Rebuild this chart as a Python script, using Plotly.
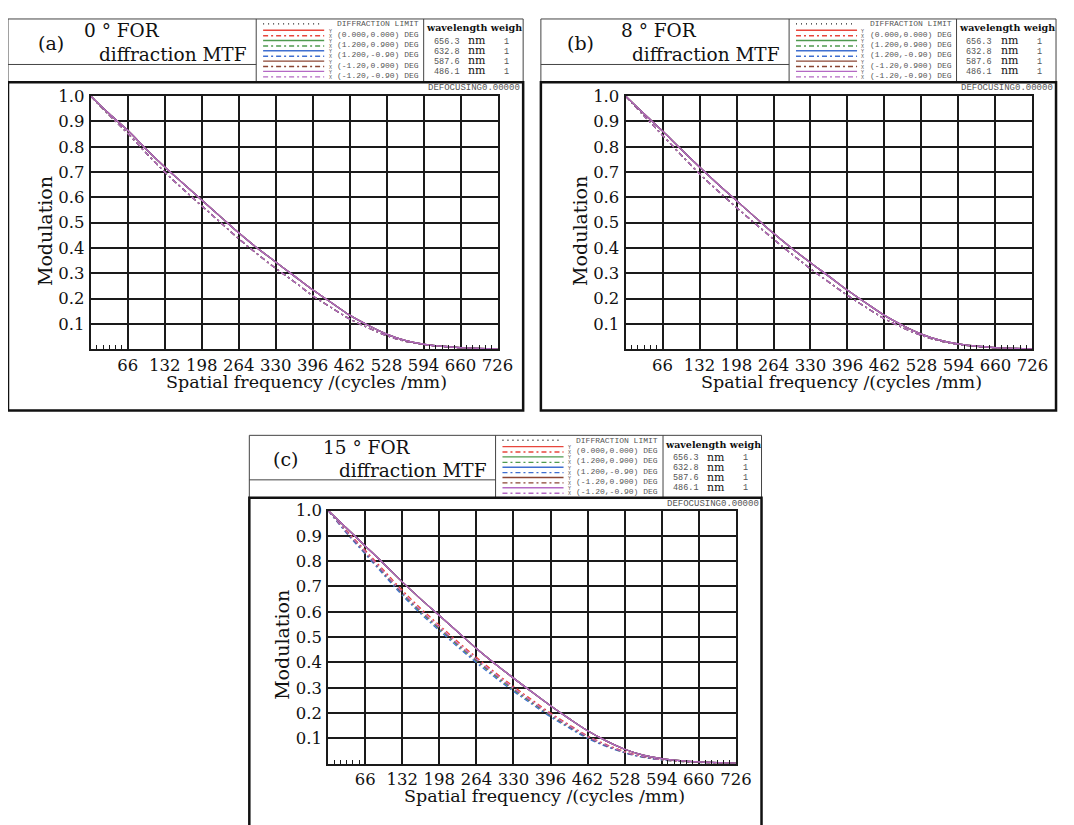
import plotly.graph_objects as go

# ---------------- data ----------------
freq = [0, 33, 66, 99, 132, 165, 198, 231, 264, 297, 330, 363, 396, 429, 462,
        495, 528, 561, 594, 627, 660, 693, 726]
x_ticks = [66, 132, 198, 264, 330, 396, 462, 528, 594, 660, 726]
y_ticks = [0.1, 0.2, 0.3, 0.4, 0.5, 0.6, 0.7, 0.8, 0.9, 1.0]
y_ticktext = ["0.1", "0.2", "0.3", "0.4", "0.5", "0.6", "0.7", "0.8", "0.9", "1.0"]
x_minor = [11, 22, 33, 44, 55, 605, 616, 627, 638, 649, 671, 682, 693, 704, 715]

field_names = ["(0.000,0.000) DEG", "(1.200,0.900) DEG", "(1.200,-0.90) DEG",
               "(-1.20,0.900) DEG", "(-1.20,-0.90) DEG"]
field_colors = ["#e8463c", "#4f9a4f", "#3f6fd0", "#8a4533", "#b469c4"]
wavelengths = ["656.3", "632.8", "587.6", "486.1"]
weights = ["1", "1", "1", "1"]

# panel (a) 0 deg
a_tan = [1.0, 0.93, 0.865, 0.79, 0.72, 0.655, 0.59, 0.525, 0.46, 0.40, 0.345, 0.29,
         0.235, 0.185, 0.135, 0.095, 0.06, 0.035, 0.02, 0.012, 0.007, 0.004, 0.002]
a_sag = [1.0, 0.925, 0.853, 0.775, 0.70, 0.632, 0.567, 0.502, 0.437, 0.377, 0.32, 0.267,
         0.212, 0.165, 0.12, 0.085, 0.054, 0.032, 0.019, 0.011, 0.006, 0.003, 0.001]
# panel (b) 8 deg
b_tan = [1.0, 0.93, 0.862, 0.79, 0.72, 0.652, 0.587, 0.522, 0.458, 0.398, 0.342, 0.288,
         0.233, 0.183, 0.134, 0.094, 0.06, 0.036, 0.021, 0.012, 0.007, 0.004, 0.002]
b_sag = [1.0, 0.922, 0.845, 0.768, 0.693, 0.625, 0.56, 0.497, 0.435, 0.375, 0.318, 0.265,
         0.213, 0.166, 0.121, 0.085, 0.055, 0.033, 0.019, 0.011, 0.006, 0.003, 0.001]
# panel (c) 15 deg
c_tan = [1.0, 0.93, 0.86, 0.79, 0.718, 0.65, 0.585, 0.52, 0.455, 0.395, 0.338, 0.283,
         0.229, 0.178, 0.13, 0.09, 0.057, 0.034, 0.02, 0.012, 0.007, 0.004, 0.002]
c_sag_red = [1.0, 0.92, 0.843, 0.764, 0.685, 0.613, 0.547, 0.482, 0.42, 0.361, 0.305, 0.252,
             0.2, 0.154, 0.11, 0.076, 0.048, 0.029, 0.017, 0.01, 0.006, 0.003, 0.001]
c_sag_green = [1.0, 0.913, 0.832, 0.751, 0.671, 0.598, 0.532, 0.467, 0.405, 0.347, 0.291, 0.24,
               0.189, 0.145, 0.103, 0.07, 0.044, 0.026, 0.015, 0.009, 0.005, 0.003, 0.001]
c_sag_blue = [1.0, 0.91, 0.828, 0.746, 0.665, 0.592, 0.526, 0.461, 0.399, 0.341, 0.286, 0.235,
              0.185, 0.141, 0.1, 0.068, 0.043, 0.025, 0.015, 0.009, 0.005, 0.003, 0.001]
c_sag_brown = [1.0, 0.915, 0.835, 0.755, 0.675, 0.603, 0.537, 0.472, 0.41, 0.352, 0.296, 0.244,
               0.193, 0.148, 0.105, 0.072, 0.045, 0.027, 0.016, 0.009, 0.005, 0.003, 0.001]
c_sag_purple = [1.0, 0.916, 0.837, 0.757, 0.677, 0.605, 0.539, 0.474, 0.412, 0.354, 0.298, 0.246,
                0.195, 0.15, 0.107, 0.073, 0.046, 0.028, 0.016, 0.01, 0.006, 0.003, 0.001]

panels = [
    dict(label="(a)", deg="0", tan=[a_tan] * 5, sag=[a_sag] * 5,
         header=(8, 10, 531, 74), tdiv=260, ldiv=430, tline=56,
         frame=(8, 74, 531, 406), plot=(92, 88, 505, 344),
         lab_dx=44, deg_dx=76),
    dict(label="(b)", deg="8", tan=[b_tan] * 5, sag=[b_sag] * 5,
         header=(549, 10, 1072, 74), tdiv=801, ldiv=971, tline=56,
         frame=(549, 74, 1072, 406), plot=(635, 88, 1048, 344),
         lab_dx=40, deg_dx=80),
    dict(label="(c)", deg="15", tan=[c_tan] * 5,
         sag=[c_sag_red, c_sag_green, c_sag_blue, c_sag_brown, c_sag_purple],
         header=(253, 431, 773, 494), tdiv=503, ldiv=673, tline=476,
         frame=(253, 494, 773, 840), plot=(333, 507, 747, 763),
         lab_dx=37, deg_dx=74),
]

# page body has an 8px margin: figure placed at (8, 8)
OFF = 8
W, H = 1074 - OFF, 825 - OFF


def X(p):
    return (p - OFF) / W


def Y(p):
    return 1 - (p - OFF) / H


SERIF = "DejaVu Serif"
MONO = "Liberation Mono"
fig = go.Figure()
shapes = []
annos = []


def line(x0, y0, x1, y1, color="#333", width=1, dash=None):
    d = dict(type="line", xref="paper", yref="paper", x0=X(x0), y0=Y(y0),
             x1=X(x1), y1=Y(y1), line=dict(color=color, width=width))
    if dash:
        d["line"]["dash"] = dash
    shapes.append(d)


def text(x, y, s, size, font=SERIF, xanchor="center", color="#111", angle=0, bold=False):
    if bold:
        s = "<b>" + s + "</b>"
    annos.append(dict(x=X(x), y=Y(y), xref="paper", yref="paper", text=s, showarrow=False,
                      xanchor=xanchor, yanchor="middle", textangle=angle, borderpad=0,
                      font=dict(family=font, size=size, color=color)))


DASHDOT = "5px,3px,2px,3px"

for k, p in enumerate(panels, start=1):
    xa, ya = ("x" if k == 1 else f"x{k}"), ("y" if k == 1 else f"y{k}")
    pl, pt, pr, pb = p["plot"]
    # curves
    for i in range(5):
        fig.add_trace(go.Scatter(x=freq, y=p["sag"][i], mode="lines", xaxis=xa, yaxis=ya,
                                 line=dict(color=field_colors[i], width=1.3, dash=DASHDOT,
                                           shape="spline"),
                                 name=field_names[i] + " X", hoverinfo="skip"))
    for i in range(5):
        fig.add_trace(go.Scatter(x=freq, y=p["tan"][i], mode="lines", xaxis=xa, yaxis=ya,
                                 line=dict(color=field_colors[i], width=1.3, shape="spline"),
                                 name=field_names[i] + " Y", hoverinfo="skip"))
    axis_common = dict(showgrid=True, gridcolor="#1a1a1a", gridwidth=1.8, zeroline=False,
                       showline=True, linecolor="#1a1a1a", linewidth=1.8, mirror=True,
                       ticks="", fixedrange=True,
                       tickfont=dict(family=SERIF, size=16.5, color="#111"))
    fig.update_layout(**{
        ("xaxis" if k == 1 else f"xaxis{k}"): dict(
            axis_common, domain=[X(pl), X(pr)], range=[0, 726], anchor=ya,
            tickmode="array", tickvals=x_ticks, ticktext=[str(v) for v in x_ticks],
            ticklabelstandoff=0,
            minor=dict(tickmode="array", tickvals=x_minor, ticks="inside", ticklen=4,
                       tickcolor="#1a1a1a", tickwidth=1, showgrid=False)),
        ("yaxis" if k == 1 else f"yaxis{k}"): dict(
            axis_common, domain=[Y(pb), Y(pt)], range=[0, 1.0], anchor=xa,
            tickmode="array", tickvals=y_ticks, ticktext=y_ticktext, ticklabelstandoff=1),
    })
    # axis titles
    text(pl - 47, (pt + pb) / 2 + 8, "Modulation", 19, angle=-90)
    text((pl + pr) / 2 + 13, pb + 33, "Spatial frequency /(cycles /mm)", 17.5)

    # header
    hl, ht, hr, hb = p["header"]
    td, ld = p["tdiv"], p["ldiv"]
    shapes.append(dict(type="rect", xref="paper", yref="paper", x0=X(hl), y0=Y(hb),
                       x1=X(hr), y1=Y(ht), line=dict(color="#444", width=1)))
    line(td, ht, td, hb, "#444", 1)
    line(ld, ht, ld, hb, "#444", 1)
    line(hl, p["tline"], td, p["tline"], "#444", 1)
    text(hl + p["lab_dx"], ht + 24, p["label"], 19)
    text(hl + p["deg_dx"], ht + 12, p["deg"] + " ° FOR", 18.5, xanchor="left")
    text(td - 8, ht + 36, "diffraction MTF", 18.5, xanchor="right")

    # legend rows
    for r in range(6):
        ty = ht + 5 + 10.4 * r
        if r == 0:
            line(td + 7, ty, td + 64, ty, "#222", 1.4, "1px,4px")
            text(td + 81, ty, "DIFFRACTION LIMIT", 8, MONO, "left", "#555")
        else:
            c = field_colors[r - 1]
            line(td + 7, ty - 4, td + 69, ty - 4, c, 1.4)
            line(td + 7, ty + 1.5, td + 69, ty + 1.5, c, 1.4, "5px,3px,2px,3px")
            text(td + 75, ty - 2.5, "Y", 5, MONO, "center", "#555")
            text(td + 75, ty + 2.5, "X", 5, MONO, "center", "#555")
            text(td + 81, ty, field_names[r - 1], 8, MONO, "left", "#555")

    # wavelength table
    text(ld + 51, ht + 9, "wavelength weigh", 9.5, bold=True)
    for r in range(4):
        ty = ht + 23 + 10.2 * r
        text(ld + 9, ty, wavelengths[r], 8.5, MONO, "left", "#555")
        text(ld + 44, ty - 1, "nm", 11, SERIF, "left", "#111")
        text(ld + 84, ty, weights[r], 8.5, MONO, "center", "#555")

    # frame
    fl, ft, fr, fb = p["frame"]
    shapes.append(dict(type="rect", xref="paper", yref="paper", x0=X(fl), y0=Y(fb),
                       x1=X(fr), y1=Y(ft), line=dict(color="#111", width=2.5)))
    text(fr - 2, ft + 6, "DEFOCUSING0.00000", 9, MONO, "right", "#555")

fig.update_layout(width=W, height=H, margin=dict(l=0, r=0, t=0, b=0),
                  paper_bgcolor="white", plot_bgcolor="white", showlegend=False,
                  shapes=shapes, annotations=annos)
fig.write_html("out.html")
